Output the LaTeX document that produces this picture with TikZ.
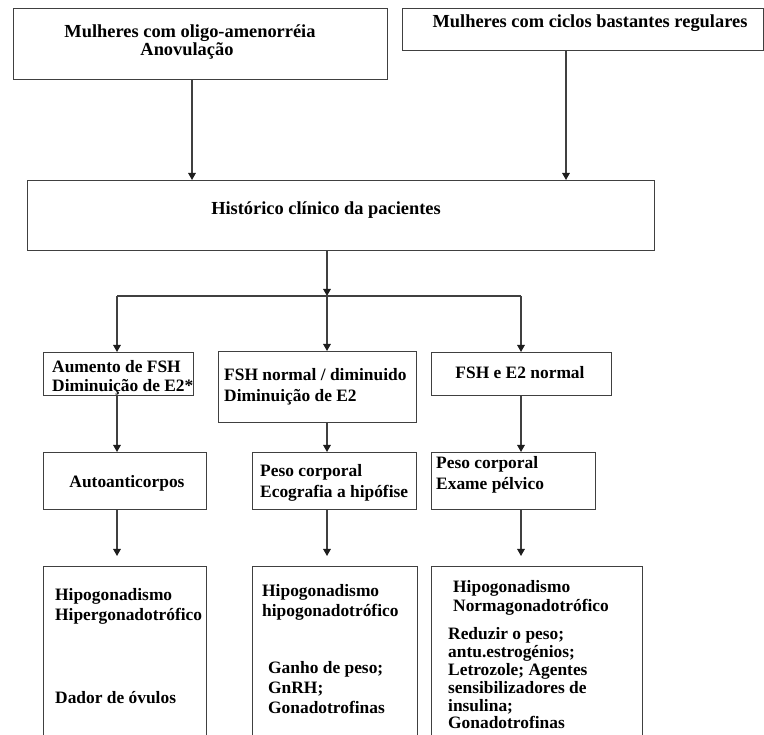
\documentclass[tikz,border=0pt]{standalone}
\usepackage{fontspec}
\setmainfont{Liberation Serif}
\usetikzlibrary{arrows.meta}
\definecolor{lc}{HTML}{404040}
\definecolor{tipc}{HTML}{1E1E1E}
\begin{document}
\begin{tikzpicture}[x=1pt,y=-1pt,
  box/.style={draw=lc, line width=1.3pt, anchor=north west, inner sep=0pt},
  conn/.style={draw=lc, line width=1.3pt},
  arr/.style={conn, -{Triangle[length=7pt,width=7.5pt,color=tipc]}},
  big/.style={font=\fontsize{18.4}{21}\selectfont\bfseries, inner sep=0pt},
  txt/.style={font=\fontsize{17.4}{20}\selectfont\bfseries, inner sep=0pt, anchor=base west},
]
\useasboundingbox (0,0) rectangle (764,735);
\fill[white] (0,0) rectangle (764,735);
% boxes
\node[box, minimum width=374, minimum height=71] (b1) at (13,8) {};
\node[box, minimum width=361, minimum height=42] (b2) at (402,8) {};
\node[box, minimum width=627, minimum height=70] (b3) at (27,180) {};
\node[box, minimum width=150, minimum height=43] (b4a) at (43,352) {};
\node[box, minimum width=198, minimum height=71] (b4b) at (218,351) {};
\node[box, minimum width=180, minimum height=43] (b4c) at (431,352) {};
\node[box, minimum width=163, minimum height=57] (b5a) at (43,452) {};
\node[box, minimum width=164, minimum height=57] (b5b) at (252,452) {};
\node[box, minimum width=164, minimum height=57] (b5c) at (431,452) {};
\node[box, minimum width=163, minimum height=200] (b6a) at (43,566) {};
\node[box, minimum width=165, minimum height=200] (b6b) at (252,566) {};
\node[box, minimum width=211, minimum height=200] (b6c) at (431,566) {};
% texts
\node[big, anchor=base] (t1a) at (190,38) {Mulheres com oligo-amenorréia};
\node[big, anchor=base] (t1b) at (187,56) {Anovulação};
\node[big, anchor=base] (t2) at (590,28) {Mulheres com ciclos bastantes regulares};
\node[big, anchor=base] (t3) at (326,215) {Histórico clínico da pacientes};
\node[txt] (t4a1) at (52,373) {Aumento de FSH};
\node[txt] (t4a2) at (52,392) {Diminuição de E2*};
\node[txt] (t4b1) at (224,381) {FSH normal / diminuido};
\node[txt] (t4b2) at (224,402) {Diminuição de E2};
\node[txt, anchor=base] (t4c) at (520,379) {FSH e E2 normal};
\node[txt, anchor=base] (t5a) at (127,488) {Autoanticorpos};
\node[txt] (t5b1) at (260,477) {Peso corporal};
\node[txt] (t5b2) at (260,498) {Ecografia a hipófise};
\node[txt] (t5c1) at (436,469) {Peso corporal};
\node[txt] (t5c2) at (436,490) {Exame pélvico};
\node[txt] (t6a1) at (55,600) {Hipogonadismo};
\node[txt] (t6a2) at (55,620) {Hipergonadotrófico};
\node[txt] (t6a3) at (55,703) {Dador de óvulos};
\node[txt] (t6b1) at (262,596) {Hipogonadismo};
\node[txt] (t6b2) at (262,616) {hipogonadotrófico};
\node[txt] (t6b3) at (268,673) {Ganho de peso;};
\node[txt] (t6b4) at (268,693) {GnRH;};
\node[txt] (t6b5) at (268,713) {Gonadotrofinas};
\node[txt] (t6c1) at (453,592) {Hipogonadismo};
\node[txt] (t6c2) at (453,612) {Normagonadotrófico};
\node[txt] (t6c3) at (448,639) {Reduzir o peso;};
\node[txt] (t6c4) at (448,657) {antu.estrogénios;};
\node[txt] (t6c5) at (448,675) {Letrozole; Agentes};
\node[txt] (t6c6) at (448,693) {sensibilizadores de};
\node[txt] (t6c7) at (448,711) {insulina;};
\node[txt] (t6c8) at (448,728) {Gonadotrofinas};
% connector coordinates
\coordinate (x1) at (192,0);
\coordinate (x2) at (566,0);
\coordinate (xA) at (117,0);
\coordinate (xB) at (327,0);
\coordinate (xC) at (521,0);
\coordinate (jc) at (327,296);
% connectors
\draw[arr] (b1.south -| x1) -- (b3.north -| x1);
\draw[arr] (b2.south -| x2) -- (b3.north -| x2);
\draw[arr] (b3.south -| jc) -- (jc);
\draw[conn] (xA |- jc) -- (xC |- jc);
\draw[arr] (xA |- jc) -- (b4a.north -| xA);
\draw[arr] (jc) -- (b4b.north -| xB);
\draw[arr] (xC |- jc) -- (b4c.north -| xC);
\draw[arr] (b4a.south -| xA) -- (b5a.north -| xA);
\draw[arr] (b4b.south -| xB) -- (b5b.north -| xB);
\draw[arr] (b4c.south -| xC) -- (b5c.north -| xC);
\draw[arr, shorten >=10pt] (b5a.south -| xA) -- (b6a.north -| xA);
\draw[arr, shorten >=10pt] (b5b.south -| xB) -- (b6b.north -| xB);
\draw[arr, shorten >=10pt] (b5c.south -| xC) -- (b6c.north -| xC);
\end{tikzpicture}
\end{document}
